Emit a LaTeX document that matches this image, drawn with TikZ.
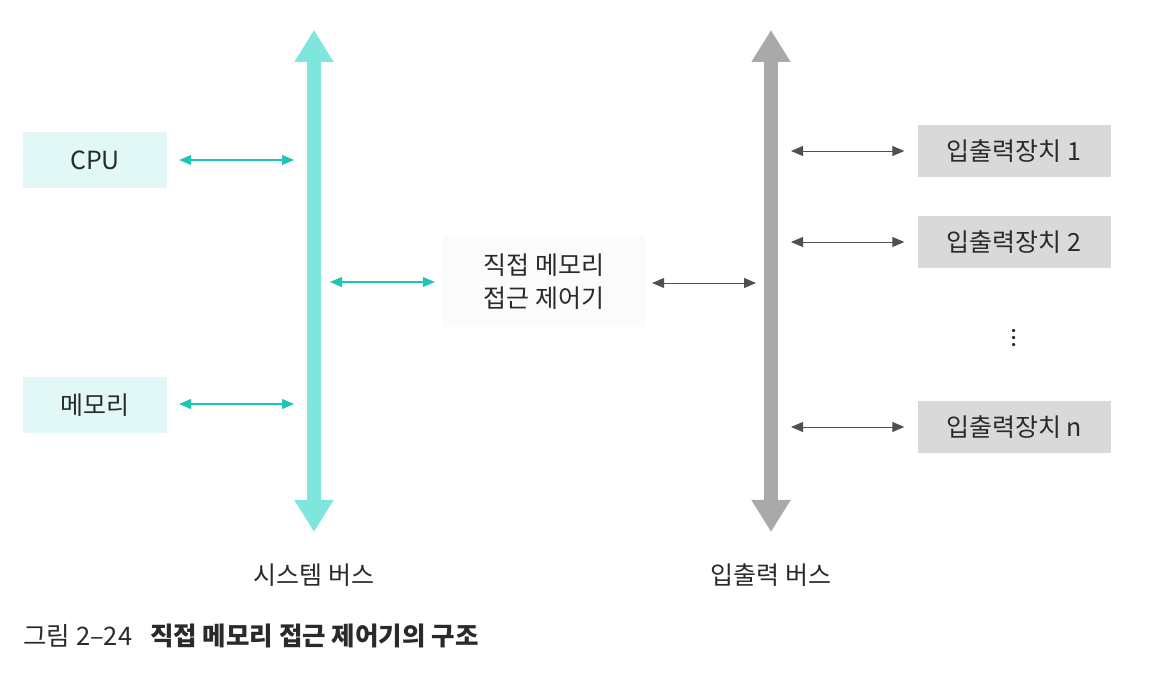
\documentclass[tikz,border=0pt]{standalone}
\usepackage{fontspec}
\setmainfont{Noto Sans CJK KR}
\usetikzlibrary{arrows.meta}
\definecolor{cpubox}{HTML}{E2F8F7}
\definecolor{sysbus}{HTML}{7FE6DD}
\definecolor{teal}{HTML}{1DC6B3}
\definecolor{iobus}{HTML}{A9A9A9}
\definecolor{iobox}{HTML}{D9D9D9}
\definecolor{darkarr}{HTML}{505050}
\definecolor{dmabox}{HTML}{FBFBFB}
\definecolor{txt}{HTML}{2A2A2A}
\tikzset{
  cpubx/.style={fill=cpubox, minimum width=144pt, minimum height=56pt, inner sep=0pt, font=\fontsize{25pt}{30pt}\selectfont, text=txt},
  iobx/.style={fill=iobox, minimum width=193pt, minimum height=52pt, inner sep=0pt, font=\fontsize{25pt}{30pt}\selectfont, text=txt},
  bus/.style={line width=14pt, {Triangle[width=37pt,length=32pt]}-{Triangle[width=37pt,length=32pt]}},
  tealarr/.style={teal, line width=1.1pt, {Triangle[width=10pt,length=12pt]}-{Triangle[width=10pt,length=12pt]}},
  grayarr/.style={darkarr, line width=0.9pt, {Triangle[width=10pt,length=12pt]}-{Triangle[width=10pt,length=12pt]}},
  lbl/.style={font=\fontsize{25pt}{30pt}\selectfont, text=txt},
}
\begin{document}
\begin{tikzpicture}[x=1pt,y=-1pt]
\useasboundingbox (0,0) rectangle (1152,684);
% buses
\coordinate (sbt) at (314,30);
\coordinate (sbb) at (314,532);
\coordinate (ibt) at (771,30);
\coordinate (ibb) at (771,532);
\draw[bus, sysbus] (sbt) -- (sbb);
\draw[bus, iobus] (ibt) -- (ibb);
% left boxes
\node[cpubx] (cpu) at (95,160) {CPU};
\node[cpubx] (mem) at (95,405) {메모리};
% DMA
\node[fill=dmabox, minimum width=202pt, minimum height=90pt, align=center, inner sep=0pt, font=\fontsize{25pt}{33pt}\selectfont, text=txt] (dma) at (544,282) {직접 메모리\\접근 제어기};
% IO devices
\node[iobx] (io1) at (1014,151) {입출력장치 1};
\node[iobx] (io2) at (1014,242) {입출력장치 2};
\node[iobx] (ion) at (1014,427) {입출력장치 n};
\node[lbl] (dots) at (1014,338) {\rotatebox{90}{...}};
% bus attachment coordinates
\coordinate (sCPU) at (294,160);
\coordinate (sMEM) at (294,404);
\coordinate (sDMA) at (330,282);
\coordinate (iDMA) at (756,283);
\coordinate (i1) at (791,151);
\coordinate (i2) at (791,242);
\coordinate (in) at (791,427);
% connectors
\draw[tealarr] ([xshift=12pt]cpu.east) -- (sCPU);
\draw[tealarr] ([xshift=12pt,yshift=1pt]mem.east) -- (sMEM);
\draw[tealarr] (sDMA) -- ([xshift=-8pt]dma.west);
\draw[grayarr] ([xshift=7pt,yshift=-1pt]dma.east) -- (iDMA);
\draw[grayarr] (i1) -- ([xshift=-13pt]io1.west);
\draw[grayarr] (i2) -- ([xshift=-13pt]io2.west);
\draw[grayarr] (in) -- ([xshift=-13pt]ion.west);
% labels
\node[lbl] (sblbl) at (314,575) {시스템 버스};
\node[lbl] (iblbl) at (771,575) {입출력 버스};
\node[lbl, anchor=west, font=\fontsize{25.5pt}{30pt}\selectfont] (cap) at (20,636) {그림 2–24\hspace{0.7em}{\bfseries 직접 메모리 접근 제어기의 구조}};
\end{tikzpicture}
\end{document}
